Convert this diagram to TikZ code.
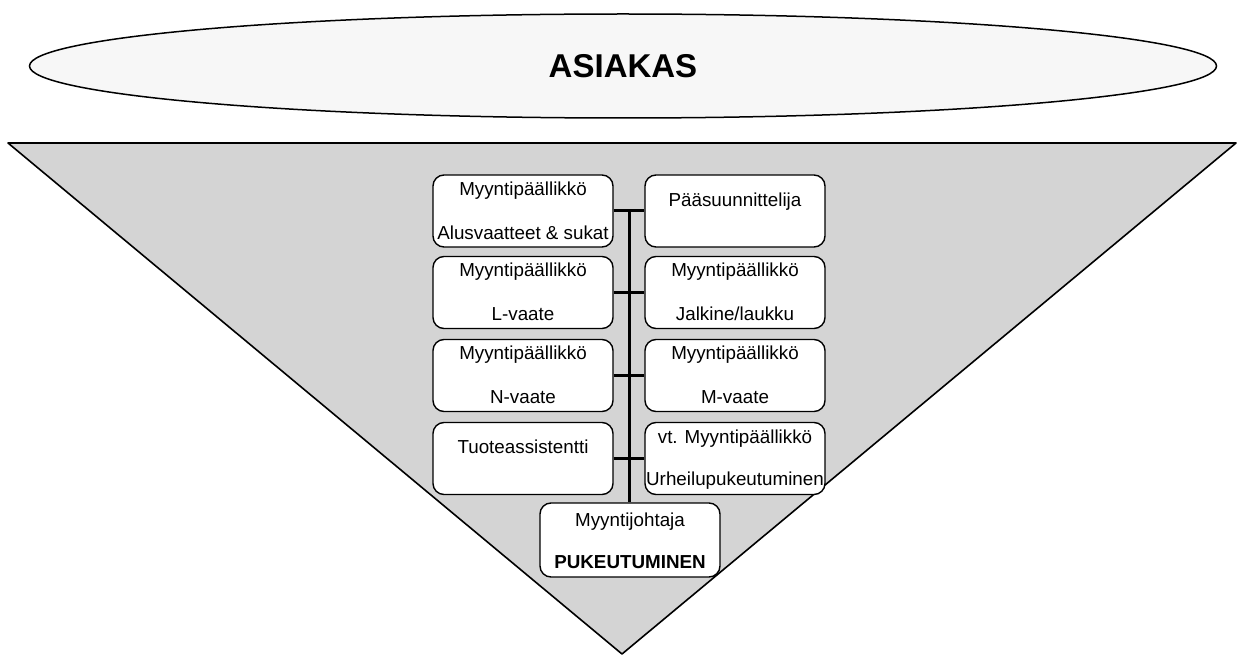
\documentclass[tikz,border=0pt]{standalone}
\usepackage{fontspec}
\setmainfont{Liberation Sans}
\usetikzlibrary{shapes.geometric,calc}
\begin{document}
\begin{tikzpicture}[x=1pt,y=-1pt,
  role/.style={draw=black, line width=1.4pt, rounded corners=11pt, fill=white,
    minimum width=180pt, minimum height=72pt, inner sep=0pt},
  txt/.style={inner sep=0pt, font=\fontsize{18.8}{22}\selectfont},
  link/.style={draw=black, line width=3pt}]
  % page frame
  \useasboundingbox (0,0) rectangle (1237,655);
  \fill[white] (0,0) rectangle (1237,655);

  % customer ellipse
  \node[draw=black, line width=1.5pt, fill=black!3, ellipse, minimum width=1187pt,
        minimum height=104pt, inner sep=0pt] (asiakas) at (623,66) {};
  \node[font=\bfseries\fontsize{33}{38}\selectfont] at (asiakas.center) {ASIAKAS};

  % inverted triangle
  \coordinate (tl) at (8,143);
  \coordinate (tr) at (1236,143);
  \coordinate (ap) at (622,654);
  \draw[fill=black!17, line width=1.6pt, line join=round] (tl) -- (tr) -- (ap) -- cycle;

  % boxes, left column
  \node[role] (l1) at (523,211) {};
  \node[role] (l2) at (523,292.5) {};
  \node[role] (l3) at (523,375.5) {};
  \node[role] (l4) at (523,458.5) {};
  % boxes, right column
  \node[role] (r1) at (735,211) {};
  \node[role] (r2) at (735,292.5) {};
  \node[role] (r3) at (735,375.5) {};
  \node[role] (r4) at (735,458.5) {};
  % sales director
  \node[role, minimum height=74pt] (dir) at (630,540) {};

  % connectors
  \draw[link] (l1.east) -- (r1.west);
  \draw[link] (l2.east) -- (r2.west);
  \draw[link] (l3.east) -- (r3.west);
  \draw[link] (l4.east) -- (r4.west);
  \coordinate (spine) at ($(l1.east)!0.53!(r1.west)$);
  \draw[link] (spine) -- (spine |- dir.north);

  % texts
  \node[txt, yshift=-16pt] at (l1.north) {Myyntipäällikkö};
  \node[txt, yshift=-58pt] at (l1.north) {Alusvaatteet \& sukat};
  \node[txt, yshift=-16pt] at (l2.north) {Myyntipäällikkö};
  \node[txt, yshift=-58pt] at (l2.north) {L-vaate};
  \node[txt, yshift=-16pt] at (l3.north) {Myyntipäällikkö};
  \node[txt, yshift=-58pt] at (l3.north) {N-vaate};
  \node[txt, yshift=-25pt] at (l4.north) {Tuoteassistentti};

  \node[txt, yshift=-27pt] at (r1.north) {Pääsuunnittelija};
  \node[txt, yshift=-16pt] at (r2.north) {Myyntipäällikkö};
  \node[txt, yshift=-58pt] at (r2.north) {Jalkine/laukku};
  \node[txt, yshift=-16pt] at (r3.north) {Myyntipäällikkö};
  \node[txt, yshift=-58pt] at (r3.north) {M-vaate};
  \node[txt, yshift=-17pt] at (r4.north) {vt. Myyntipäällikkö};
  \node[txt, yshift=-59pt] at (r4.north) {Urheilupukeutuminen};

  \node[txt, yshift=-19pt] at (dir.north) {Myyntijohtaja};
  \node[txt, font=\bfseries\fontsize{18.8}{22}\selectfont, yshift=-60pt] at (dir.north) {PUKEUTUMINEN};
\end{tikzpicture}
\end{document}
